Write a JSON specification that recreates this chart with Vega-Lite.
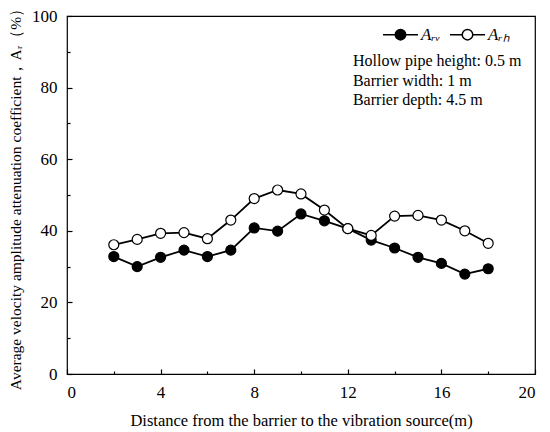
{
  "$schema": "https://vega.github.io/schema/vega-lite/v6.json",
  "autosize": {"type": "none"},
  "width": 468,
  "height": 358,
  "padding": {"left": 67, "top": 16, "right": 15, "bottom": 58},
  "background": "white",
  "config": {
    "font": "Liberation Serif",
    "view": {"stroke": "black", "strokeWidth": 1.2},
    "axis": {
      "domain": false,
      "tickColor": "black",
      "tickWidth": 1.2,
      "grid": false,
      "labelFont": "Liberation Serif",
      "labelFontSize": 17,
      "labelColor": "black",
      "titleFont": "Liberation Serif",
      "titleFontWeight": "normal",
      "titleColor": "black"
    }
  },
  "datasets": {
    "series": [
      {"distance": 2, "value": 32.8, "series": "Aᵣᵥ"},
      {"distance": 3, "value": 30.0, "series": "Aᵣᵥ"},
      {"distance": 4, "value": 32.6, "series": "Aᵣᵥ"},
      {"distance": 5, "value": 34.6, "series": "Aᵣᵥ"},
      {"distance": 6, "value": 32.8, "series": "Aᵣᵥ"},
      {"distance": 7, "value": 34.6, "series": "Aᵣᵥ"},
      {"distance": 8, "value": 40.8, "series": "Aᵣᵥ"},
      {"distance": 9, "value": 39.9, "series": "Aᵣᵥ"},
      {"distance": 10, "value": 44.7, "series": "Aᵣᵥ"},
      {"distance": 11, "value": 42.8, "series": "Aᵣᵥ"},
      {"distance": 12, "value": 40.6, "series": "Aᵣᵥ"},
      {"distance": 13, "value": 37.4, "series": "Aᵣᵥ"},
      {"distance": 14, "value": 35.2, "series": "Aᵣᵥ"},
      {"distance": 15, "value": 32.6, "series": "Aᵣᵥ"},
      {"distance": 16, "value": 30.9, "series": "Aᵣᵥ"},
      {"distance": 17, "value": 27.9, "series": "Aᵣᵥ"},
      {"distance": 18, "value": 29.4, "series": "Aᵣᵥ"},
      {"distance": 2, "value": 36.1, "series": "Aᵣₕ"},
      {"distance": 3, "value": 37.6, "series": "Aᵣₕ"},
      {"distance": 4, "value": 39.3, "series": "Aᵣₕ"},
      {"distance": 5, "value": 39.5, "series": "Aᵣₕ"},
      {"distance": 6, "value": 37.8, "series": "Aᵣₕ"},
      {"distance": 7, "value": 43.0, "series": "Aᵣₕ"},
      {"distance": 8, "value": 49.0, "series": "Aᵣₕ"},
      {"distance": 9, "value": 51.4, "series": "Aᵣₕ"},
      {"distance": 10, "value": 50.3, "series": "Aᵣₕ"},
      {"distance": 11, "value": 45.8, "series": "Aᵣₕ"},
      {"distance": 12, "value": 40.6, "series": "Aᵣₕ"},
      {"distance": 13, "value": 38.7, "series": "Aᵣₕ"},
      {"distance": 14, "value": 44.1, "series": "Aᵣₕ"},
      {"distance": 15, "value": 44.3, "series": "Aᵣₕ"},
      {"distance": 16, "value": 43.0, "series": "Aᵣₕ"},
      {"distance": 17, "value": 40.0, "series": "Aᵣₕ"},
      {"distance": 18, "value": 36.5, "series": "Aᵣₕ"}
    ],
    "notes": [
      {"distance": 12.22, "value": 86.1, "text": "Hollow pipe height: 0.5 m"},
      {"distance": 12.22, "value": 80.5, "text": "Barrier width: 1 m"},
      {"distance": 12.22, "value": 75.1, "text": "Barrier depth: 4.5 m"}
    ]
  },
  "layer": [
    {
      "data": {"name": "series"},
      "mark": {"type": "point", "opacity": 0},
      "encoding": {
        "x": {
          "field": "distance",
          "type": "quantitative",
          "scale": {"domain": [0, 20], "nice": false, "zero": false},
          "axis": {"orient": "bottom", "values": [2, 6, 10, 14, 18], "labels": false, "offset": -3, "tickSize": 3, "title": null}
        },
        "y": {
          "field": "value",
          "type": "quantitative",
          "scale": {"domain": [0, 100], "nice": false},
          "axis": {"orient": "left", "values": [10, 30, 50, 70, 90], "labels": false, "offset": -3, "tickSize": 3, "title": null}
        }
      }
    },
    {
      "data": {"name": "series"},
      "mark": {"type": "line", "color": "black", "strokeWidth": 1.8},
      "encoding": {
        "x": {
          "field": "distance",
          "type": "quantitative",
          "axis": {
            "orient": "bottom",
            "title": "Distance from the barrier to the vibration source(m)",
            "values": [0, 4, 8, 12, 16, 20],
            "offset": -5,
            "tickSize": 5,
            "labelPadding": 10,
            "titleFontSize": 16.5,
            "titlePadding": 12
          }
        },
        "y": {
          "field": "value",
          "type": "quantitative",
          "axis": {
            "orient": "left",
            "title": "Average velocity amplitude attenuation coefficient，Aᵣ（%）",
            "values": [0, 20, 40, 60, 80, 100],
            "offset": -5,
            "tickSize": 5,
            "labelPadding": 10,
            "titleFontSize": 15.5,
            "titlePadding": 8
          }
        },
        "detail": {"field": "series"}
      }
    },
    {
      "data": {"name": "series"},
      "mark": {"type": "point", "shape": "circle", "filled": true, "size": 100, "stroke": "black", "strokeWidth": 1.2, "opacity": 1},
      "encoding": {
        "x": {"field": "distance", "type": "quantitative", "axis": null},
        "y": {"field": "value", "type": "quantitative", "axis": null},
        "fill": {
          "field": "series",
          "type": "nominal",
          "scale": {"domain": ["Aᵣᵥ", "Aᵣₕ"], "range": ["black", "white"]},
          "legend": {
            "title": null,
            "orient": "none",
            "legendX": 315,
            "legendY": 0,
            "direction": "horizontal",
            "symbolType": "M-1,0H-0.3M0.3,0H1M0.3,0A0.3,0.3 0 1,1 -0.3,0A0.3,0.3 0 1,1 0.3,0",
            "symbolSize": 1225,
            "symbolStrokeColor": "black",
            "symbolStrokeWidth": 1.5,
            "symbolOpacity": 1,
            "labelFont": "Liberation Serif",
            "labelFontStyle": "italic",
            "labelFontSize": 17,
            "labelColor": "black",
            "labelOffset": 2,
            "columnPadding": 6
          }
        }
      }
    },
    {
      "data": {"name": "notes"},
      "mark": {"type": "text", "align": "left", "baseline": "alphabetic", "fontSize": 16, "font": "Liberation Serif", "color": "black"},
      "encoding": {
        "x": {"field": "distance", "type": "quantitative", "axis": null},
        "y": {"field": "value", "type": "quantitative", "axis": null},
        "text": {"field": "text"}
      }
    }
  ],
  "resolve": {"axis": {"x": "independent", "y": "independent"}}
}
